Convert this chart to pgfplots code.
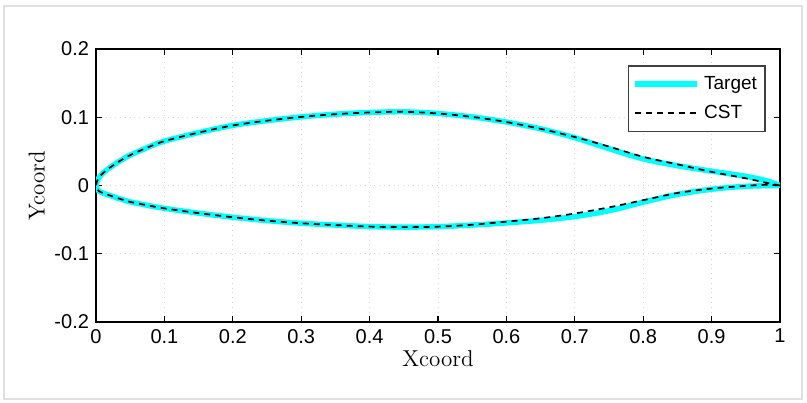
\documentclass[border=0pt]{standalone}
\usepackage{pgfplots}
\pgfplotsset{compat=1.18}
\usepackage{fontspec}
\newfontfamily\arialfont{Liberation Sans}
\definecolor{tcyan}{RGB}{0,255,255}
\definecolor{gridgray}{RGB}{215,215,215}
\begin{document}
\begin{tikzpicture}
\path[use as bounding box] (-48pt,-40pt) rectangle (355.5pt,161pt);
\draw[draw=black!12, line width=0.6pt] (-46pt,-38.5pt) rectangle (353pt,158pt);
\begin{axis}[
  at={(0,0)}, anchor=south west,
  width=342pt, height=136.5pt, scale only axis,
  xmin=0, xmax=1, ymin=-0.2, ymax=0.2,
  xtick={0,0.1,...,1}, ytick={-0.2,-0.1,0,0.1,0.2},
  xticklabels={0,0.1,0.2,0.3,0.4,0.5,0.6,0.7,0.8,0.9,1},
  yticklabels={-0.2,-0.1,0,0.1,0.2},
  tick align=inside, major tick length=3pt,
  xtick pos=both, ytick pos=both,
  tick style={black, line width=0.6pt},
  axis line style={black, line width=1pt},
  grid=major, major grid style={gridgray, dotted, line width=0.5pt},
  ticklabel style={font=\arialfont\fontsize{10}{11}\selectfont},
  /pgf/number format/assume math mode=true,
  xlabel={Xcoord}, ylabel={Ycoord},
  label style={font=\fontsize{11.5}{12}\selectfont},
  xlabel style={yshift=3pt},
  ylabel style={yshift=-2pt},
  legend style={at={(0.979,0.94)}, anchor=north east, draw=black!75, line width=0.7pt,
    font=\arialfont\fontsize{9.5}{11}\selectfont, row sep=2.5pt, inner xsep=2pt, inner ysep=3pt},
  legend cell align=left,
  legend image code/.code={\draw[#1] (0pt,0pt) -- (31pt,0pt);},
]
\addplot[tcyan, line width=2.7pt, smooth, tension=0.55] coordinates {
(1,0) (0.98,0.007) (0.95,0.0135) (0.9,0.021) (0.85,0.029) (0.8,0.039) (0.75,0.054) (0.7,0.070)
(0.65,0.083) (0.6,0.093) (0.55,0.1005) (0.5,0.1055) (0.45,0.108) (0.4,0.107) (0.35,0.1045) (0.3,0.1005)
(0.25,0.095) (0.2,0.088) (0.15,0.0775) (0.1,0.065) (0.075,0.0555) (0.05,0.0445) (0.035,0.036) (0.02,0.026)
(0.01,0.018) (0.004,0.011) (0.001,0.005) (0,0)
(0.001,-0.004) (0.004,-0.008) (0.01,-0.011) (0.02,-0.0145) (0.035,-0.0195) (0.05,-0.024) (0.075,-0.029)
(0.1,-0.0335) (0.15,-0.0405) (0.2,-0.0465) (0.25,-0.0515) (0.3,-0.0553) (0.35,-0.058) (0.4,-0.0602)
(0.45,-0.061) (0.5,-0.0603) (0.55,-0.058) (0.6,-0.0548) (0.65,-0.051) (0.7,-0.0455) (0.75,-0.037)
(0.8,-0.0245) (0.85,-0.013) (0.9,-0.0055) (0.95,-0.0012) (1,0)
};
\addlegendentry{Target}
\addplot[black, line width=0.85pt, dash pattern=on 3pt off 2.5pt, smooth, tension=0.55] coordinates {
(1,0) (0.98,0.004) (0.95,0.0105) (0.9,0.020) (0.85,0.031) (0.8,0.042) (0.75,0.057) (0.7,0.071)
(0.65,0.083) (0.6,0.093) (0.55,0.1005) (0.5,0.1055) (0.45,0.108) (0.4,0.107) (0.35,0.1045) (0.3,0.1005)
(0.25,0.095) (0.2,0.088) (0.15,0.0775) (0.1,0.065) (0.075,0.0555) (0.05,0.0445) (0.035,0.036) (0.02,0.026)
(0.01,0.018) (0.004,0.011) (0.001,0.005) (0,0)
(0.001,-0.004) (0.004,-0.008) (0.01,-0.011) (0.02,-0.0145) (0.035,-0.0195) (0.05,-0.024) (0.075,-0.029)
(0.1,-0.0335) (0.15,-0.0405) (0.2,-0.0465) (0.25,-0.0515) (0.3,-0.0553) (0.35,-0.058) (0.4,-0.0602)
(0.45,-0.061) (0.5,-0.0603) (0.55,-0.0575) (0.6,-0.053) (0.65,-0.048) (0.7,-0.041) (0.75,-0.032)
(0.8,-0.0215) (0.85,-0.011) (0.9,-0.0045) (0.95,-0.0005) (0.98,0.001) (1,0)
};
\addlegendentry{CST}
\end{axis}
\end{tikzpicture}
\end{document}
